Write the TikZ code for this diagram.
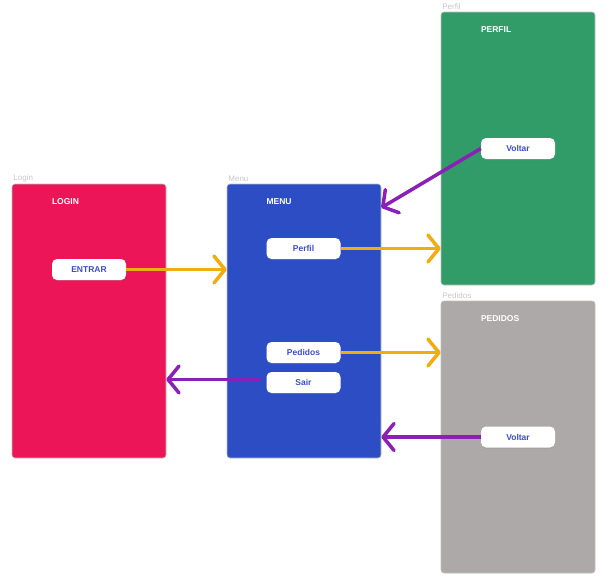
\documentclass[tikz,border=0pt]{standalone}
\usepackage{fontspec}
\setmainfont{Liberation Sans}
\usetikzlibrary{positioning, arrows.meta, shadows}

\definecolor{loginred}{HTML}{EC1558}
\definecolor{menublue}{HTML}{2C4DC4}
\definecolor{perfilgreen}{HTML}{329C69}
\definecolor{pedidosgray}{HTML}{ADA9A8}
\definecolor{goyellow}{HTML}{F0AD0E}
\definecolor{backpurple}{HTML}{8B20B9}
\definecolor{btntext}{HTML}{3B50C8}

\begin{document}
\begin{tikzpicture}[
    x=1pt, y=-1pt,
    on grid,
    screen/.style={rectangle, rounded corners=3pt, minimum width=154pt, minimum height=274pt, draw=black!25, line width=0.6pt},
    tag/.style={font=\fontsize{8}{9}\selectfont, text=black!22, anchor=south west, inner sep=1.5pt},
    title/.style={font=\fontsize{8.5}{10}\selectfont\bfseries, text=white, anchor=west, inner sep=0pt},
    button/.style={rectangle, rounded corners=5pt, fill=white, minimum width=74pt, minimum height=21pt, inner sep=0pt,
        font=\fontsize{8.5}{10}\selectfont\bfseries, text=btntext,
        drop shadow={shadow xshift=0pt, shadow yshift=-1pt, opacity=0.25}},
    go/.style={draw=goyellow, line width=3.5pt, -{Straight Barb[length=11pt,width=27pt,round]}},
    back/.style={draw=backpurple, line width=3.5pt, -{Straight Barb[length=11pt,width=27pt,round]}}
]
   \useasboundingbox (0,0) rectangle (610,587);

   % Screens
   \node[screen, fill=loginred] (login) at (89,321) {};
   \node[screen, fill=menublue] (menu) [right=215pt of login] {};
   \node[screen, fill=perfilgreen, minimum height=273pt] (perfil) at (518,148.5) {};
   \node[screen, fill=pedidosgray, minimum height=272pt] (pedidos) [below=288.5pt of perfil] {};

   % Screen tags
   \node[tag] at (login.north west) {Login};
   \node[tag] at (menu.north west) {Menu};
   \node[tag] at (perfil.north west) {Perfil};
   \node[tag] at (pedidos.north west) {Pedidos};

   % Buttons
   \node[button] (entrar) at (89,269.5) {ENTRAR};
   \node[button] (bperfil) at (303.5,248.5) {Perfil};
   \node[button] (bpedidos) at (303.5,352.5) {Pedidos};
   \node[button] (sair) at (303.5,382.5) {Sair};
   \node[button] (voltarA) at (perfil.center) {Voltar};
   \node[button] (voltarB) at (pedidos.center) {Voltar};

   % Titles
   \node[title] at (entrar.west |- 0,202) {LOGIN};
   \node[title] at (bperfil.west |- 0,202) {MENU};
   \node[title] at (voltarA.west |- 0,30) {PERFIL};
   \node[title] at (voltarB.west |- 0,319) {PEDIDOS};

   \coordinate (menuback) at ([yshift=-24pt]menu.north east);

   % Transitions
   \draw[go] (entrar) -- (entrar -| menu.west);
   \draw[go] (bperfil) -- (bperfil -| perfil.west);
   \draw[go] (bpedidos) -- (bpedidos -| pedidos.west);
   \draw[back, shorten <=5pt] ([yshift=3pt]sair.west) -- ([yshift=3pt]sair.west -| login.east);
   \draw[back] (voltarA.west) -- (menuback);
   \draw[back] (voltarB.west) -- (voltarB.west -| menu.east);
\end{tikzpicture}
\end{document}
